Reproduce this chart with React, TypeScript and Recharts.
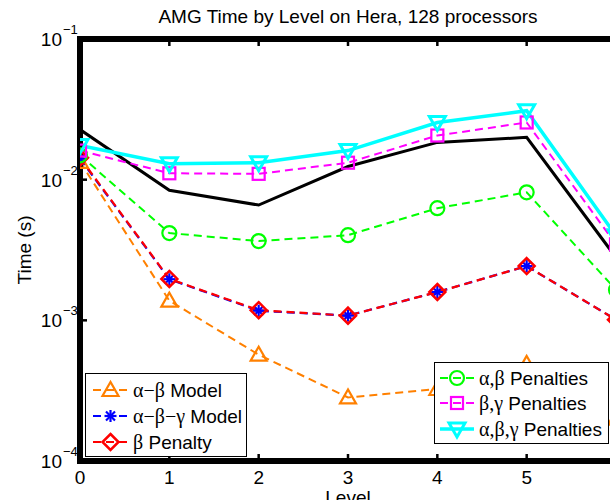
import React from 'react';
import { LineChart, Line, XAxis, YAxis } from 'recharts';

// ---------- data ----------
const levels = [0, 1, 2, 3, 4, 5, 6];
const measured = [0.0227, 0.0084, 0.0066, 0.0124, 0.0184, 0.0200, 0.0028];
const abModel = [0.0134, 0.00138, 0.00057, 0.000283, 0.000325, 0.00049, 0.0002];
const abgModel = [0.0141, 0.00196, 0.00117, 0.00108, 0.00159, 0.00243, 0.00101];
const bPenalty = [0.0143, 0.00197, 0.00118, 0.00108, 0.00159, 0.00243, 0.00101];
const abPenalties = [0.0149, 0.00417, 0.00366, 0.00403, 0.00627, 0.00813, 0.00165];
const bgPenalties = [0.0161, 0.0111, 0.0110, 0.0132, 0.0206, 0.0255, 0.00347];
const abgPenalties = [0.0175, 0.0130, 0.0132, 0.0161, 0.0255, 0.0309, 0.0040];

const seriesNames = [
  'Measured',
  'α−β Model',
  'α−β−γ Model',
  'β Penalty',
  'α,β Penalties',
  'β,γ Penalties',
  'α,β,γ Penalties',
];
const yTicks = [1e-4, 1e-3, 1e-2, 1e-1];
const xTicks = [0, 1, 2, 3, 4, 5, 6];
const title = 'AMG Time by Level on Hera, 128 processors';
const xLabel = 'Level';
const yLabel = 'Time (s)';

const data = levels.map((l, i) => ({
  level: l,
  s0: measured[i],
  s1: abModel[i],
  s2: abgModel[i],
  s3: bPenalty[i],
  s4: abPenalties[i],
  s5: bgPenalties[i],
  s6: abgPenalties[i],
}));

// ---------- styles ----------
const SANS = '"Liberation Sans", Arial, Helvetica, sans-serif';
const SERIF = '"Liberation Serif", "DejaVu Serif", serif';
const VIEW_W = 610;

type Kind = 'none' | 'triUp' | 'star' | 'diamond' | 'circle' | 'square' | 'triDown';
const series: { key: string; color: string; dash?: string; width: number; marker: Kind }[] = [
  { key: 's0', color: '#000000', width: 3, marker: 'none' },
  { key: 's1', color: '#FF8000', dash: '8 5', width: 2, marker: 'triUp' },
  { key: 's2', color: '#0000FF', dash: '8 5', width: 2.2, marker: 'star' },
  { key: 's3', color: '#FF0000', dash: '8 5', width: 2.2, marker: 'diamond' },
  { key: 's4', color: '#00FF00', dash: '8 5', width: 2, marker: 'circle' },
  { key: 's5', color: '#FF00FF', dash: '8 5', width: 2, marker: 'square' },
  { key: 's6', color: '#00FFFF', width: 3.5, marker: 'triDown' },
];

function Marker({ kind, cx, cy, color }: { kind: Kind; cx: number; cy: number; color: string }) {
  const common = { stroke: color, strokeWidth: 2.2, fill: 'none', strokeDasharray: 'none' } as any;
  switch (kind) {
    case 'triUp':
      return <polygon {...common} strokeLinejoin="miter" points={`${cx},${cy - 8} ${cx - 8},${cy + 6} ${cx + 8},${cy + 6}`} />;
    case 'triDown':
      return <polygon {...common} strokeWidth={3} points={`${cx - 8},${cy - 6} ${cx + 8},${cy - 6} ${cx},${cy + 8}`} />;
    case 'circle':
      return <circle {...common} cx={cx} cy={cy} r={7} />;
    case 'square':
      return <rect {...common} x={cx - 6} y={cy - 6} width={12} height={12} />;
    case 'diamond':
      return <polygon {...common} strokeWidth={2.5} points={`${cx},${cy - 8} ${cx + 8},${cy} ${cx},${cy + 8} ${cx - 8},${cy}`} />;
    case 'star':
      return (
        <g {...common}>
          <line x1={cx - 6} y1={cy} x2={cx + 6} y2={cy} />
          <line x1={cx} y1={cy - 6} x2={cx} y2={cy + 6} />
          <line x1={cx - 4.5} y1={cy - 4.5} x2={cx + 4.5} y2={cy + 4.5} />
          <line x1={cx - 4.5} y1={cy + 4.5} x2={cx + 4.5} y2={cy - 4.5} />
        </g>
      );
    default:
      return null;
  }
}

const YTick = (props: any) => {
  const { y, payload } = props;
  const e = Math.round(Math.log10(payload.value));
  return (
    <g>
      <line x1={80} x2={87} y1={y} y2={y} stroke="#000" strokeWidth={2.5} />
      <text x={62} y={y + 7} textAnchor="end" fontSize={19} fontFamily={SANS} fill="#000">10</text>
      <text x={63} y={y - 5} fontSize={13} fontFamily={SANS} fill="#000">{`−${-e}`}</text>
    </g>
  );
};

const XTickBottom = (props: any) => {
  const { x, payload } = props;
  const inView = x + 6 < VIEW_W;
  return (
    <g>
      <line x1={x} x2={x} y1={461} y2={454} stroke="#000" strokeWidth={2.5} />
      {inView && (
        <text x={x} y={484} textAnchor="middle" fontSize={19} fontFamily={SANS} fill="#000">{payload.value}</text>
      )}
    </g>
  );
};

const XTickTop = (props: any) => {
  const { x } = props;
  return <line x1={x} x2={x} y1={39} y2={46} stroke="#000" strokeWidth={2.5} />;
};

function LegendLabel({ x, y, label }: { x: number; y: number; label: string }) {
  const sp = label.indexOf(' ');
  const greek = label.slice(0, sp);
  const rest = label.slice(sp);
  return (
    <text x={x} y={y} fontSize={19} fill="#000">
      <tspan fontFamily={SERIF} fontSize={20}>{greek}</tspan>
      <tspan fontFamily={SANS} style={{ whiteSpace: 'pre' }}>{rest}</tspan>
    </text>
  );
}

function LegendRow({ idx, x0, x1, y }: { idx: number; x0: number; x1: number; y: number }) {
  const s = series[idx];
  return (
    <g>
      <line x1={x0} x2={x1} y1={y} y2={y} stroke={s.color} strokeWidth={s.width} strokeDasharray={s.dash ?? 'none'} />
      <Marker kind={s.marker} cx={(x0 + x1) / 2} cy={y} color={s.color} />
      <LegendLabel x={x1 + 5} y={y + 7} label={seriesNames[idx]} />
    </g>
  );
}

export default function App() {
  return (
    <div style={{ position: 'absolute', left: 0, top: 0, width: 610, height: 500, overflow: 'hidden', background: '#fff' }}>
      <LineChart width={700} height={500} data={data} margin={{ top: 0, right: 84, bottom: 0, left: 0 }}>
        <XAxis
          xAxisId="b"
          dataKey="level"
          type="number"
          domain={[0, 6]}
          ticks={xTicks}
          height={39}
          axisLine={{ stroke: '#000', strokeWidth: 6, strokeLinecap: 'square' } as any}
          tickLine={false}
          tick={<XTickBottom />}
          allowDataOverflow
        />
        <XAxis
          xAxisId="t"
          orientation="top"
          dataKey="level"
          type="number"
          domain={[0, 6]}
          ticks={xTicks}
          height={39}
          axisLine={{ stroke: '#000', strokeWidth: 6, strokeLinecap: 'square' } as any}
          tickLine={false}
          tick={<XTickTop />}
          allowDataOverflow
        />
        <YAxis
          scale="log"
          type="number"
          domain={[1e-4, 1e-1]}
          ticks={yTicks}
          width={80}
          axisLine={{ stroke: '#000', strokeWidth: 6, strokeLinecap: 'square' } as any}
          tickLine={false}
          tick={<YTick />}
          allowDataOverflow
        />
        {series.map((s, si) => (
          <Line
            key={s.key}
            xAxisId="b"
            dataKey={s.key}
            name={seriesNames[si]}
            stroke={s.color}
            strokeWidth={s.width}
            strokeDasharray={s.dash}
            isAnimationActive={false}
            dot={(p: any) => (
              <Marker key={`${s.key}-${p.index}`} kind={s.marker} cx={p.cx} cy={p.cy} color={s.color} />
            )}
            activeDot={false}
          />
        ))}
      </LineChart>
      <svg
        width={610}
        height={500}
        style={{ position: 'absolute', left: 0, top: 0, pointerEvents: 'none' }}
      >
        <text x={348} y={23} textAnchor="middle" fontSize={19} fontFamily={SANS} fill="#000">{title}</text>
        <text x={348} y={504} textAnchor="middle" fontSize={19} fontFamily={SANS} fill="#000">{xLabel}</text>
        <text
          transform="translate(31,250) rotate(-90)"
          textAnchor="middle"
          fontSize={19}
          fontFamily={SANS}
          fill="#000"
        >
          {yLabel}
        </text>
        {/* left legend */}
        <rect x={85.5} y={373.5} width={161} height={83} fill="#fff" stroke="#000" strokeWidth={1} />
        <LegendRow idx={1} x0={93} x1={128} y={390} />
        <LegendRow idx={2} x0={93} x1={128} y={416} />
        <LegendRow idx={3} x0={93} x1={128} y={442} />
        {/* right legend */}
        <rect x={434.5} y={362.5} width={174} height={81} fill="#fff" stroke="#000" strokeWidth={1} />
        <LegendRow idx={4} x0={440} x1={474} y={378} />
        <LegendRow idx={5} x0={440} x1={474} y={403} />
        <LegendRow idx={6} x0={440} x1={474} y={429} />
      </svg>
    </div>
  );
}
